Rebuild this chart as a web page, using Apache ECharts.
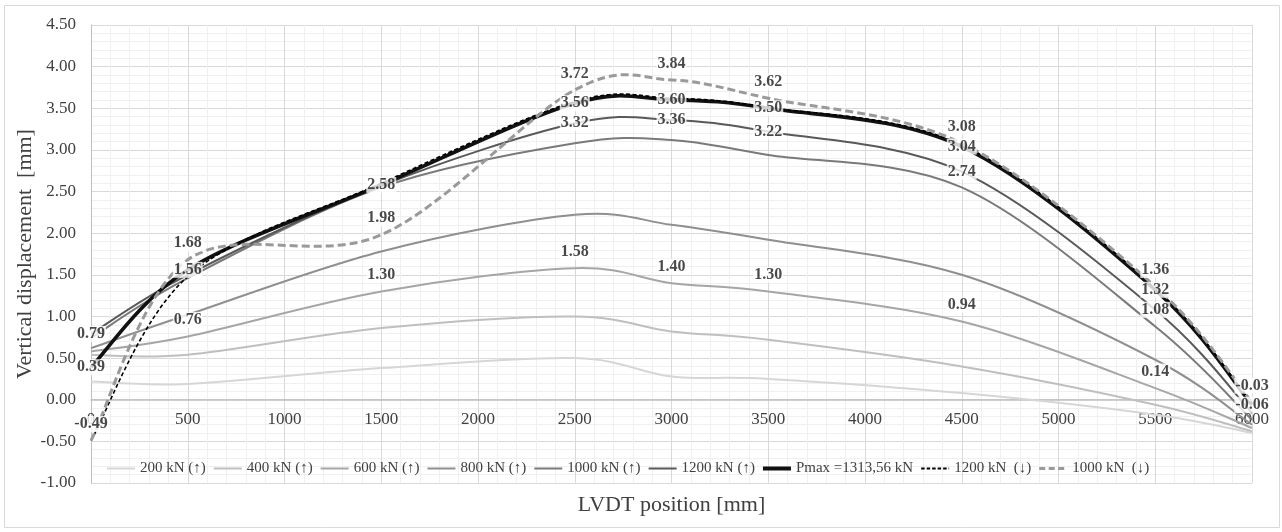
<!DOCTYPE html>
<html>
<head>
<meta charset="utf-8">
<script src="https://cdn.jsdelivr.net/npm/echarts@6/dist/echarts.min.js"></script>
<style>
  html, body { margin: 0; padding: 0; background: #ffffff; }
  #chart { width: 1282px; height: 532px; }
</style>
</head>
<body>
<div id="chart"></div>
<script>
// LVDT positions along the beam [mm]
const positions = [0, 500, 1500, 2500, 3000, 3500, 4500, 5500, 6000];

// Vertical displacement [mm] at each LVDT, per load step
const load200Up  = [0.22, 0.19, 0.38, 0.50, 0.28, 0.25, 0.08, -0.18, -0.40];
const load400Up  = [0.54, 0.54, 0.86, 1.00, 0.82, 0.72, 0.40, -0.06, -0.38];
const load600Up  = [0.58, 0.76, 1.30, 1.58, 1.40, 1.30, 0.94, 0.14, -0.34];
const load800Up  = [0.62, 1.02, 1.78, 2.22, 2.10, 1.92, 1.50, 0.48, -0.30];
const load1000Up = [0.74, 1.46, 2.55, 3.08, 3.12, 2.94, 2.55, 0.88, -0.24];
const load1200Up = [0.79, 1.50, 2.57, 3.32, 3.36, 3.22, 2.74, 1.08, -0.16];
const loadPmax   = [0.39, 1.56, 2.58, 3.56, 3.60, 3.50, 3.04, 1.32, -0.06];
const load1200Down = [-0.49, 1.48, 2.60, 3.58, 3.62, 3.51, 3.06, 1.34, -0.05];
const load1000Down = [-0.49, 1.68, 1.98, 3.72, 3.84, 3.62, 3.08, 1.36, -0.03];

const seriesNames = [
  '200 kN (↑)', '400 kN (↑)', '600 kN (↑)', '800 kN (↑)', '1000 kN (↑)',
  '1200 kN (↑)', 'Pmax =1313,56 kN', '1200 kN  (↓)', '1000 kN  (↓)'
];

// which readings carry a value label
const labelIdx600Up   = [1, 2, 3, 4, 5, 6, 7];
const labelIdx1200Up  = [0, 3, 4, 5, 6, 7];
const labelIdxPmax    = [0, 1, 2, 3, 4, 5, 6, 7, 8];
const labelIdx1000Dn  = [0, 1, 2, 3, 4, 5, 6, 7, 8];

const SERIF = 'Liberation Serif, Times New Roman, serif';

const curves = [
  { values: load200Up,    color: '#d6d6d6', width: 2,   dash: null },
  { values: load400Up,    color: '#bfbfbf', width: 2,   dash: null },
  { values: load600Up,    color: '#a6a6a6', width: 2,   dash: null },
  { values: load800Up,    color: '#8f8f8f', width: 2,   dash: null },
  { values: load1000Up,   color: '#7a7a7a', width: 2,   dash: null },
  { values: load1200Up,   color: '#595959', width: 2,   dash: null },
  { values: loadPmax,     color: '#111111', width: 3.6, dash: null },
  { values: load1200Down, color: '#000000', width: 1.6, dash: [4, 2.5] },
  { values: load1000Down, color: '#9a9a9a', width: 3,   dash: [8, 4] }
];

// legend glyph: a horizontal bar (solid or dashed) drawn as a filled path
function barIcon(h, dash, gap) {
  const W = 28;
  if (!dash) return 'path://M0,0H' + W + 'V' + h + 'H0Z';
  let d = '';
  let x = 0;
  while (x < W) {
    const w = Math.min(dash, W - x);
    d += 'M' + x + ',0h' + w + 'v' + h + 'h-' + w + 'Z';
    x += dash + gap;
  }
  // keep the icon's bounding box the full width
  d += 'M' + (W - 0.01) + ',0h0.01v0.01h-0.01Z';
  return 'path://' + d;
}

// Smoothed curve through the readings (cubic Bezier, tangents from neighbours)
function smoothCurve(values, style) {
  return function (params, api) {
    if (params.dataIndex !== 0) return null;
    const pts = positions.map((x, i) => api.coord([x, values[i]]));
    const n = pts.length;
    let d = 'M' + pts[0][0] + ',' + pts[0][1];
    for (let i = 0; i < n - 1; i++) {
      const p0 = pts[Math.max(i - 1, 0)];
      const p1 = pts[i];
      const p2 = pts[i + 1];
      const p3 = pts[Math.min(i + 2, n - 1)];
      const c1x = p1[0] + (p2[0] - p0[0]) / 6, c1y = p1[1] + (p2[1] - p0[1]) / 6;
      const c2x = p2[0] - (p3[0] - p1[0]) / 6, c2y = p2[1] - (p3[1] - p1[1]) / 6;
      d += ' C' + c1x + ',' + c1y + ',' + c2x + ',' + c2y + ',' + p2[0] + ',' + p2[1];
    }
    return {
      type: 'path',
      shape: { pathData: d },
      style: {
        fill: null,
        stroke: style.color,
        lineWidth: style.width,
        lineDash: style.dash || null,
        lineCap: 'butt',
        lineJoin: 'round'
      }
    };
  };
}

function labelSeries(values, indices, position, distance) {
  return {
    type: 'scatter',
    silent: true,
    z: 20,
    symbolSize: 1,
    itemStyle: { color: 'rgba(0,0,0,0)' },
    data: indices.map(i => [positions[i], values[i]]),
    label: {
      show: true,
      position: position,
      distance: distance,
      formatter: p => p.value[1].toFixed(2),
      fontFamily: SERIF,
      fontSize: 16,
      fontWeight: 'bold',
      color: '#1a1a1a',
      backgroundColor: '#ffffff',
      padding: [0, 1],
      lineHeight: 16
    }
  };
}

const curveSeries = curves.map((c, k) => ({
  type: 'custom',
  name: seriesNames[k],
  silent: true,
  z: 2 + k,
  itemStyle: { color: c.color },
  data: positions.map((x, i) => [x, c.values[i]]),
  renderItem: smoothCurve(c.values, c)
}));

const legendIcons = [
  barIcon(2), barIcon(2), barIcon(2), barIcon(2), barIcon(2), barIcon(2),
  barIcon(4), barIcon(2, 3.5, 2), barIcon(3, 6, 3.5)
];

const GRID = { left: 91, right: 30, top: 25, bottom: 49 };
const Y_MIN = -1, Y_MAX = 4.5;
// the x axis sits on the y = 0 line
const plotHeight = 532 - GRID.top - GRID.bottom;
const xAxisLift = plotHeight * (0 - Y_MIN) / (Y_MAX - Y_MIN);

const chart = echarts.init(document.getElementById('chart'), null, { renderer: 'canvas' });

chart.setOption({
  animation: false,
  backgroundColor: '#ffffff',
  graphic: [{
    type: 'rect',
    silent: true,
    shape: { x: 4.5, y: 5.5, width: 1275, height: 522 },
    style: { fill: null, stroke: '#d9d9d9', lineWidth: 1 }
  }],
  grid: Object.assign({ containLabel: false, outerBoundsMode: 'none' }, GRID),
  legend: {
    left: 102,
    top: 456,
    itemWidth: 28,
    itemHeight: 14,
    itemGap: 8,
    selectedMode: false,
    textStyle: { fontFamily: SERIF, fontSize: 15, color: '#404040' },
    data: seriesNames.map((name, i) => ({ name: name, icon: legendIcons[i] }))
  },
  xAxis: {
    type: 'value',
    position: 'bottom',
    offset: -xAxisLift,
    min: 0,
    max: 6000,
    interval: 500,
    name: 'LVDT position [mm]',
    nameLocation: 'middle',
    nameGap: 94,
    nameMoveOverlap: false,
    nameTextStyle: { fontFamily: SERIF, fontSize: 22, color: '#404040' },
    axisLine: { show: true, onZero: false, lineStyle: { color: '#bfbfbf', width: 1.5 } },
    axisTick: { show: false },
    axisLabel: {
      interval: 0, margin: 11, fontFamily: SERIF, fontSize: 17, color: '#404040',
      showMinLabel: true, showMaxLabel: true,
      formatter: v => String(v)
    },
    splitLine: { show: true, lineStyle: { color: '#d9d9d9', width: 1 } },
    minorTick: { show: false, splitNumber: 5 },
    minorSplitLine: { show: true, lineStyle: { color: '#f0f0f0', width: 1 } }
  },
  yAxis: {
    type: 'value',
    min: Y_MIN,
    max: Y_MAX,
    interval: 0.5,
    name: 'Vertical displacement  [mm]',
    nameLocation: 'middle',
    nameGap: 55,
    nameMoveOverlap: false,
    nameRotate: 90,
    nameTextStyle: { fontFamily: SERIF, fontSize: 22, color: '#404040' },
    axisLine: { show: true, onZero: false, lineStyle: { color: '#bfbfbf', width: 1 } },
    axisTick: { show: false },
    axisLabel: {
      margin: 15,
      fontFamily: SERIF,
      fontSize: 17,
      color: '#404040',
      formatter: v => v.toFixed(2)
    },
    splitLine: { show: true, lineStyle: { color: '#d9d9d9', width: 1 } },
    minorTick: { show: false, splitNumber: 5 },
    minorSplitLine: { show: true, lineStyle: { color: '#f0f0f0', width: 1 } }
  },
  series: curveSeries.concat([
    labelSeries(load600Up, labelIdx600Up, 'top', 8),
    labelSeries(load1200Up, labelIdx1200Up, 'inside', 0),
    labelSeries(loadPmax, labelIdxPmax, 'inside', 0),
    labelSeries(load1000Down, labelIdx1000Dn, 'top', 8)
  ])
});
</script>
</body>
</html>
